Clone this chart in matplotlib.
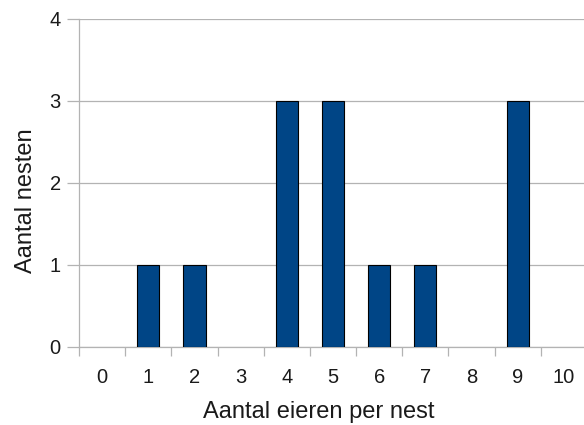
import matplotlib.pyplot as plt

# data
eieren = [0, 1, 2, 3, 4, 5, 6, 7, 8, 9, 10]
nesten = [0, 1, 1, 0, 3, 3, 1, 1, 0, 3, 0]

plt.rcParams['font.family'] = ['Liberation Sans', 'DejaVu Sans']

fig = plt.figure(figsize=(5.84, 4.25), dpi=100)
ax = fig.add_axes([79 / 584, 78 / 425, 508 / 584, 328 / 425])

grid = '#b3b3b3'
tekst = '#1a1a1a'
randen = ['black' if n > 0 else 'none' for n in nesten]
ax.bar(eieren, nesten, width=0.48, color='#004586', edgecolor=randen, linewidth=0.8, zorder=3)

ax.set_xlim(-0.5, 10.5)
ax.set_ylim(0, 4)
ax.set_yticks([0, 1, 2, 3, 4])
ax.yaxis.grid(True, color=grid, linewidth=0.9, zorder=0)

# ticks between categories, labels in the middle
ax.set_xticks([x - 0.5 for x in eieren] + [10.5])
ax.set_xticklabels([])
ax.set_xticks(eieren, minor=True)
ax.set_xticklabels([str(e) for e in eieren], minor=True)
ax.tick_params(axis='x', which='major', length=6.5, color=grid, width=0.9)
ax.tick_params(axis='x', which='minor', length=0, pad=15, labelsize=14.5, labelcolor=tekst)
ax.tick_params(axis='y', length=8.6, color=grid, width=0.9, pad=4.5, labelsize=14.5, labelcolor=tekst)

for s in ['top', 'right']:
    ax.spines[s].set_visible(False)
for s in ['left', 'bottom']:
    ax.spines[s].set_color(grid)
    ax.spines[s].set_linewidth(0.9)

ax.set_xlabel('Aantal eieren per nest', fontsize=17, color=tekst, va='baseline')
ax.xaxis.set_label_coords((319 - 79) / 508, (347 - 418) / 328)
ax.set_ylabel('Aantal nesten', fontsize=17, color=tekst, va='center')
ax.yaxis.set_label_coords((26 - 79) / 508, (347 - 201) / 328)

fig.savefig('out.png')
